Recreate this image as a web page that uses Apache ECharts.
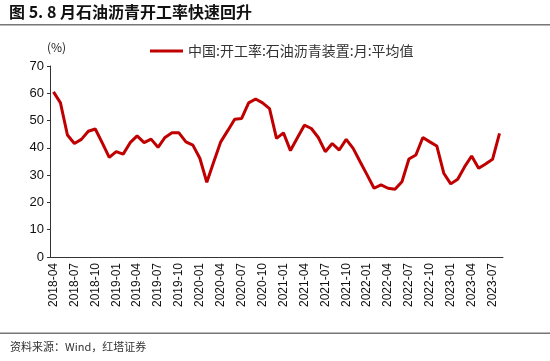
<!DOCTYPE html>
<html><head><meta charset="utf-8">
<script src="https://cdn.jsdelivr.net/npm/echarts@6/dist/echarts.min.js"></script>
<style>html,body{margin:0;padding:0;background:#fff}#c{width:550px;height:361px}</style>
</head><body><div id="c"></div>
<script>
const startYear = 2018, startMonth = 4, monthCount = 65;
const categories = [];
for (let i = 0; i < monthCount; i++) {
  const m = (startMonth - 1 + i) % 12 + 1;
  const y = startYear + Math.floor((startMonth - 1 + i) / 12);
  categories.push(y + '-' + (m < 10 ? '0' + m : m));
}
const seriesName = '中国:开工率:石油沥青装置:月:平均值';
const values = [
  60.5, 56.5, 44.7, 41.6, 43.1, 46.1, 46.9, 41.8, 36.5, 38.6,
  37.7, 41.9, 44.4, 41.9, 43.2, 40.2, 43.8, 45.5, 45.5, 42.2,
  41.0, 36.2, 27.4, 34.9, 42.2, 46.3, 50.5, 50.8, 56.5, 57.9,
  56.5, 54.4, 43.5, 45.5, 39.0, 43.7, 48.3, 47.1, 43.8, 38.6,
  41.6, 39.2, 43.1, 39.8, 34.9, 30.1, 25.2, 26.4, 25.2, 24.8,
  27.6, 35.9, 37.4, 43.8, 42.2, 40.7, 30.7, 26.8, 28.5, 33.1,
  37.0, 32.5, 34.1, 35.8, 45.3
];
const yTicks = [0, 70, 10];
const titleText = '图 5. 8 月石油沥青开工率快速回升';
const unitText = '(%)';
const sourceText = '资料来源：Wind，红塔证券';

const chart = echarts.init(document.getElementById('c'));
chart.setOption({
  animation: false,
  backgroundColor: '#fff',
  grid: {left: 50, right: 47, top: 66, bottom: 104},
  legend: {
    top: 39, left: 145, itemWidth: 33, itemHeight: 3, itemGap: 2,
    icon: 'rect',
    textStyle: {fontFamily: 'Noto Sans CJK SC', fontSize: 14, color: '#333'},
    data: [seriesName]
  },
  xAxis: {
    type: 'category', data: categories, boundaryGap: true,
    axisLine: {lineStyle: {color: '#333', width: 1}},
    axisTick: {interval: 2, length: 4, lineStyle: {color: '#333'}},
    axisLabel: {interval: 2, rotate: 90, fontFamily: 'Liberation Sans', fontSize: 12, color: '#111', margin: 6}
  },
  yAxis: {
    type: 'value', min: yTicks[0], max: yTicks[1], interval: yTicks[2],
    axisLine: {show: true, lineStyle: {color: '#333'}},
    axisTick: {show: true, length: 3, inside: false, lineStyle: {color: '#333'}},
    splitLine: {show: false},
    axisLabel: {fontFamily: 'Liberation Sans', fontSize: 13, color: '#111', margin: 6}
  },
  graphic: [
    {type: 'text', left: 9, top: 4, style: {text: titleText, font: 'bold 16px "Noto Sans CJK SC"', fill: '#111'}},
    {type: 'rect', shape: {x: 0, y: 24, width: 550, height: 1.5}, style: {fill: '#777'}},
    {type: 'text', left: 47, top: 41, style: {text: unitText, font: '12px "Noto Sans CJK SC"', fill: '#222'}},
    {type: 'rect', shape: {x: 0, y: 332.5, width: 550, height: 1.5}, style: {fill: '#777'}},
    {type: 'text', left: 10, top: 341, style: {text: sourceText, font: '11px "Noto Sans CJK SC"', fill: '#333'}}
  ],
  series: [{
    name: seriesName, type: 'line', data: values, showSymbol: false, symbol: 'none',
    lineStyle: {color: '#C00000', width: 3}, itemStyle: {color: '#C00000'}
  }]
});
</script></body></html>
